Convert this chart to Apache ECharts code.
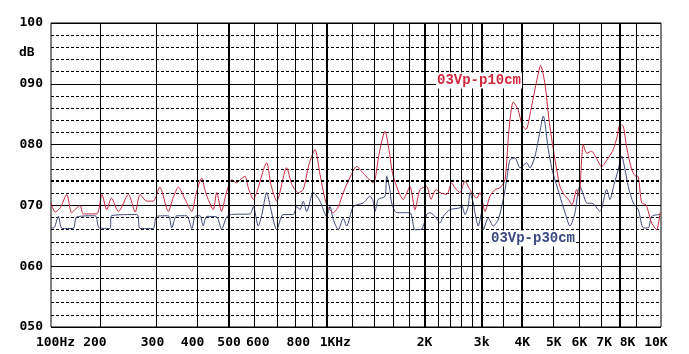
<!DOCTYPE html>
<html><head><meta charset="utf-8">
<script src="https://cdn.jsdelivr.net/npm/echarts@6/dist/echarts.min.js"></script>
<style>html,body{margin:0;padding:0;background:#fff}#c{width:689px;height:354px}</style>
</head><body><div id="c"></div>
<script>
// ---- data (frequency in Hz, level in dB) ----
const redFreq = [100,106,114,125,134,143,151,158,174,192,203,210,217,228,245,257,266,279,292,306,325,336,349,366,384,395,412,421,431,447,458,474,489,509,528,540,560,573,594,608,653,673,701,752,781,817,846,881,920,953,999,1047,1085,1124,1179,1236,1295,1390,1448,1511,1554,1602,1720,1804,1869,1936,2031,2093,2169,2232,2340,2424,2482,2571,2664,2760,2895,2964,3071,3181,3296,3415,3539,3641,3753,3880,3992,4107,4255,4409,4559,4700,4835,4985,5117,5227,5378,5544,5692,5884,5981,6166,6317,6545,6747,7025,7362,7628,7831,7999,8189,8389,8692,8898,9108,9331,9620,10017,10378,10624];
const redDb = [70.5,68.9,69.6,71.8,68.8,69.5,70.0,68.6,68.6,68.6,71.8,69.3,71.2,69.0,71.8,68.9,71.8,70.7,70.7,73.0,69.0,71.2,73.0,71.0,69.0,71.8,74.5,72.6,71.0,69.3,72.1,69.0,71.8,74.2,73.7,74.2,74.8,72.9,71.0,72.1,77.0,73.4,70.7,76.2,73.4,72.1,72.6,76.7,79.2,75.1,70.1,68.8,69.8,72.1,74.6,76.4,75.3,73.7,78.4,82.2,79.2,74.8,71.0,73.1,69.3,72.6,73.1,71.0,72.6,72.1,71.8,73.7,72.9,72.1,74.0,72.6,71.2,72.1,69.0,71.5,72.6,72.9,74.2,82.5,87.0,85.8,83.3,82.5,85.8,89.9,93.0,89.9,84.1,79.2,75.6,73.1,71.8,71.0,70.1,72.6,71.5,80.0,78.6,78.9,77.9,76.4,77.8,79.2,81.2,83.3,83.0,79.5,75.9,74.9,74.7,70.4,70.1,67.1,66.0,68.8];
const blueFreq = [100,104,111,117,137,144,187,198,215,217,260,266,292,299,325,333,345,370,384,393,407,416,427,458,474,492,509,580,594,615,631,653,673,701,734,788,808,827,846,867,909,953,999,1023,1047,1085,1124,1151,1207,1295,1358,1387,1407,1441,1511,1529,1565,1584,1642,1804,1869,1960,2031,2079,2169,2232,2284,2395,2571,2603,2664,2727,2760,2826,2860,2928,3000,3034,3143,3257,3374,3496,3582,3667,3799,3936,4127,4225,4378,4536,4644,4811,4928,5045,5227,5416,5611,5814,5951,6024,6166,6317,6605,6941,7279,7452,7666,7903,8097,8289,8485,8791,9108,9437,9778,10017,10624];
const blueDb = [66.3,66.3,68.2,66.2,66.2,68.1,68.3,66.3,66.2,68.3,68.5,66.2,66.2,68.2,68.3,66.3,68.3,68.3,66.2,68.2,68.3,66.6,68.2,68.1,66.1,68.1,68.5,68.6,69.8,66.6,68.5,72.1,69.3,66.0,68.5,68.5,69.8,69.3,70.7,69.0,72.1,70.7,68.2,69.8,67.7,66.0,67.9,66.6,69.8,70.4,71.5,70.8,69.0,71.0,71.5,74.8,72.6,70.4,68.8,68.8,66.0,66.1,68.5,68.8,68.0,67.1,68.2,69.3,69.6,70.1,68.5,69.8,72.1,70.4,68.8,66.6,68.8,66.0,67.9,66.6,67.7,71.0,74.2,77.5,77.8,76.2,77.0,76.2,78.1,82.2,84.7,79.2,76.2,74.2,71.5,68.8,66.6,68.8,72.6,73.1,71.8,70.4,70.3,69.0,72.6,71.0,73.4,75.9,78.1,75.9,73.1,70.4,69.3,66.3,66.3,68.2,68.5];
const redName = '03Vp-p10cm';
const blueName = '03Vp-p30cm';

// ---- axes ----
const xTickFreqs = [100,200,300,400,500,600,800,1000,2000,3000,4000,5000,6000,7000,8000,10000];
const xTickLabels = ['100Hz','200','300','400','500','600','800','1KHz','2K','3k','4K','5K','6K','7K','8K','10K'];
const xLabelShift = [4.5,-5,-4.5,-5,0,3,3,8.5,0,0,0,0,0,3,7.5,4.5];
const gridFreqs = [200,300,400,500,600,700,800,900,1000,1200,1400,1600,1800,2000,2200,2400,2600,2800,3000,3500,4000,5000,6000,7000,8000,9000];
const boldGridFreqs = [500,1000,2000,3000,4000,8000];
const xMinFreq = 100, xMaxFreq = 10700;
const yMin = 50, yMax = 100, yStep = 10, yMinorSplit = 5, yMarkLevel = 74;

// chart-paper frequency scale: first octave (100-200 Hz) is half width, log above
function u(f){ return f < 200 ? 0.5*Math.log2(f/100) : 0.5 + Math.log2(f/200); }

const FONT = '"DejaVu Sans Mono", monospace';
const rich = {};
xTickLabels.forEach((t,i)=>{
  const s = xLabelShift[i];
  rich['s'+i] = {fontFamily: FONT, fontWeight:'bold', fontSize:13, color:'#000',
    padding: s >= 0 ? [0,0,0,2*s] : [0,-2*s,0,0]};
});

const gridMarks = gridFreqs.map(f => ({xAxis: u(f), lineStyle:{width: boldGridFreqs.includes(f) ? 2 : 1, type:'solid', color:'#000'}}));
gridMarks.push({yAxis: yMarkLevel, lineStyle:{width:2, type:[3,2], color:'#000'}});

const chart = echarts.init(document.getElementById('c'), null, {renderer:'canvas'});
chart.setOption({
  animation:false,
  backgroundColor:'#fff',
  grid:{left:51, right:28, top:23, bottom:27, show:true, borderColor:'#000', borderWidth:1, backgroundColor:'transparent'},
  xAxis:{type:'value', min:u(xMinFreq), max:u(xMaxFreq),
    axisLine:{show:false}, axisTick:{show:false}, splitLine:{show:false},
    axisLabel:{customValues: xTickFreqs.map(u), hideOverlap:false, margin:9,
      fontFamily:FONT, fontWeight:'bold', fontSize:13, color:'#000', rich:rich,
      formatter:(v)=>{
        let best=0, bd=1e9;
        xTickFreqs.forEach((f,i)=>{const d=Math.abs(u(f)-v); if(d<bd){bd=d;best=i;}});
        return '{s'+best+'|'+xTickLabels[best]+'}';
      }}},
  yAxis:{type:'value', min:yMin, max:yMax, interval:yStep,
    axisLine:{show:false}, axisTick:{show:false},
    axisLabel:{margin:8, fontFamily:FONT, fontWeight:'bold', fontSize:13, color:'#000',
      formatter:(v)=>String(v).padStart(3,'0')},
    splitLine:{show:true, lineStyle:{color:'#000', width:1}},
    minorTick:{show:false, splitNumber:yMinorSplit},
    minorSplitLine:{show:true, lineStyle:{color:'#000', width:1, type:[3,2]}}},
  series:[
    {type:'line', data:[], z:1, silent:true,
      markLine:{silent:true, symbol:['none','none'], label:{show:false}, animation:false,
        lineStyle:{color:'#000', width:1, type:'solid'}, data:gridMarks}},
    {type:'line', name:blueName, z:3, smooth:0.25, showSymbol:false, silent:true,
      lineStyle:{color:'#3e4a7c', width:1},
      data: blueFreq.map((f,i)=>[u(f), blueDb[i]])},
    {type:'line', name:redName, z:4, smooth:0.25, showSymbol:false, silent:true,
      lineStyle:{color:'#c8283e', width:1},
      data: redFreq.map((f,i)=>[u(f), redDb[i]])}
  ],
  graphic:[
    {type:'text', x:19, y:53, style:{text:'dB', fill:'#000', font:'bold 13px '+FONT, align:'left', verticalAlign:'middle'}},
    {type:'text', x:436, y:80.5, z:10, style:{text:redName, fill:'#d0283c', font:'bold 14px "Liberation Mono", monospace', align:'left', verticalAlign:'middle', backgroundColor:'#fff', padding:[1,1,1,1]}},
    {type:'text', x:490, y:238.5, z:10, style:{text:blueName, fill:'#3c4a82', font:'bold 14px "Liberation Mono", monospace', align:'left', verticalAlign:'middle', backgroundColor:'#fff', padding:[1,1,1,1]}}
  ]
});
</script></body></html>
